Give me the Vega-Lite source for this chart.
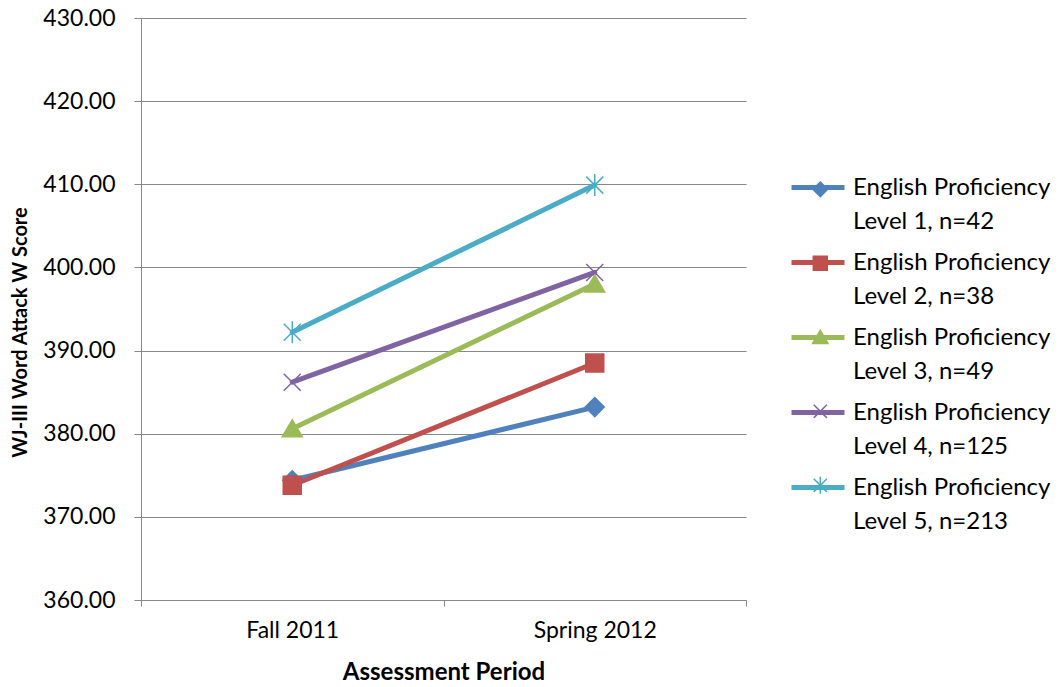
{
  "$schema": "https://vega.github.io/schema/vega-lite/v6.json",
  "width": 605,
  "height": 582,
  "autosize": "none",
  "padding": {"left": 141, "top": 18, "right": 314, "bottom": 87},
  "background": "white",
  "config": {
    "view": {"stroke": null},
    "font": "Lato",
    "axis": {"labelFont": "Lato", "titleFont": "Lato", "labelColor": "#000", "titleColor": "#000"},
    "legend": {
      "orient": "none", "padding": 0, "symbolOpacity": 1,
      "labelFont": "Lato", "labelFontSize": 24, "labelColor": "#000", "labelLimit": 400
    },
    "range": {
      "category": ["#4F81BD", "#C0504D", "#9BBB59", "#8064A2", "#4BACC6"]
    }
  },
  "data": {
    "values": [
      {"series": "English Proficiency Level 1, n=42", "period": "Fall 2011", "score": 374.4},
      {"series": "English Proficiency Level 1, n=42", "period": "Spring 2012", "score": 383.2},
      {"series": "English Proficiency Level 2, n=38", "period": "Fall 2011", "score": 373.8},
      {"series": "English Proficiency Level 2, n=38", "period": "Spring 2012", "score": 388.5},
      {"series": "English Proficiency Level 3, n=49", "period": "Fall 2011", "score": 380.6},
      {"series": "English Proficiency Level 3, n=49", "period": "Spring 2012", "score": 398.0},
      {"series": "English Proficiency Level 4, n=125", "period": "Fall 2011", "score": 386.2},
      {"series": "English Proficiency Level 4, n=125", "period": "Spring 2012", "score": 399.4},
      {"series": "English Proficiency Level 5, n=213", "period": "Fall 2011", "score": 392.2},
      {"series": "English Proficiency Level 5, n=213", "period": "Spring 2012", "score": 409.9}
    ]
  },
  "encoding": {
    "x": {
      "field": "period", "type": "nominal", "bandPosition": 0.5,
      "scale": {"type": "band", "paddingInner": 0, "paddingOuter": 0, "domain": ["Fall 2011", "Spring 2012"]},
      "axis": {
        "title": "Assessment Period", "titleFontSize": 24, "titleFontWeight": "bold",
        "titleY": 72, "titleBaseline": "middle",
        "labelAngle": 0, "labelFontSize": 23, "labelPadding": 13,
        "tickBand": "extent", "tickSize": 6, "tickColor": "#888", "domainColor": "#888",
        "grid": false
      }
    },
    "y": {
      "field": "score", "type": "quantitative",
      "scale": {"domain": [360, 430], "nice": false, "zero": false},
      "axis": {
        "title": "WJ-III Word Attack W Score", "titleFontSize": 20, "titleFontWeight": "bold",
        "titleX": -121, "titleY": 314, "titleBaseline": "middle", "titleAngle": -90,
        "values": [360, 370, 380, 390, 400, 410, 420, 430], "format": ".2f",
        "labelFontSize": 23, "labelPadding": 19, "tickSize": 7, "tickColor": "#888",
        "domainColor": "#888", "grid": true, "gridColor": "#888", "gridWidth": 1
      }
    }
  },
  "layer": [
    {
      "mark": {"type": "line", "strokeWidth": 5, "strokeCap": "round"},
      "encoding": {
        "color": {
          "field": "series", "type": "nominal",
          "legend": {
            "title": null, "legendX": 648, "legendY": 140.5, "rowPadding": 0,
            "symbolType": "stroke", "symbolSize": 2809, "symbolStrokeWidth": 5, "labelOffset": 6,
            "labelExpr": "['English Proficiency', replace(datum.label, 'English Proficiency ', '')]",
            "encode": {"labels": {"update": {"lineHeight": {"value": 34}}}}
          }
        }
      }
    },
    {
      "transform": [{"filter": "datum.score > 0"}],
      "mark": {"type": "point", "filled": true, "opacity": 1, "size": 100, "strokeWidth": 1.5},
      "encoding": {
        "fill": {
          "field": "series", "type": "nominal",
          "legend": {
            "title": null, "legendX": 667.3, "legendY": 159.3, "rowPadding": 16,
            "symbolSize": 60, "symbolStrokeWidth": 1.5, "labelOffset": 6, "labelOpacity": 0,
            "labelExpr": "['English Proficiency', replace(datum.label, 'English Proficiency ', '')]",
            "encode": {"labels": {"update": {"lineHeight": {"value": 34}}}}
          }
        },
        "stroke": {
          "field": "series", "type": "nominal",
          "legend": {
            "title": null, "legendX": 667.3, "legendY": 159.3, "rowPadding": 16,
            "symbolSize": 60, "symbolStrokeWidth": 1.5, "labelOffset": 6, "labelOpacity": 0,
            "labelExpr": "['English Proficiency', replace(datum.label, 'English Proficiency ', '')]",
            "encode": {"labels": {"update": {"lineHeight": {"value": 34}}}}
          }
        },
        "shape": {
          "field": "series", "type": "nominal",
          "scale": {
            "range": ["M0,-1.9L1.9,0L0,1.9L-1.9,0Z", "M-1.8,-1.8H1.8V1.8H-1.8Z", "M0,-1.8L2,1.6L-2,1.6Z", "M-1.7,-1.7L1.7,1.7M-1.7,1.7L1.7,-1.7", "M-1.7,-1.7L1.7,1.7M-1.7,1.7L1.7,-1.7M0,-2.2L0,2.2"]
          },
          "legend": {
            "title": null, "legendX": 667.3, "legendY": 159.3, "rowPadding": 16,
            "symbolSize": 60, "symbolStrokeWidth": 1.5, "labelOffset": 6, "labelOpacity": 0,
            "labelExpr": "['English Proficiency', replace(datum.label, 'English Proficiency ', '')]",
            "encode": {"labels": {"update": {"lineHeight": {"value": 34}}}}
          }
        }
      }
    }
  ]
}
